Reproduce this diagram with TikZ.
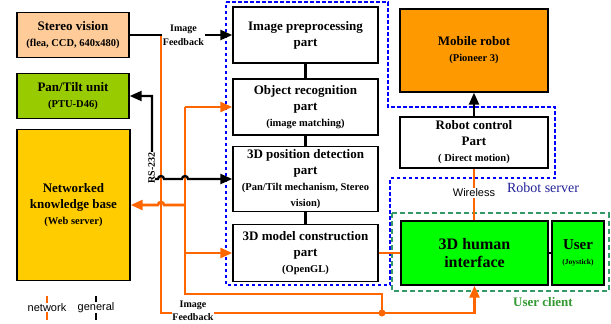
\documentclass[tikz,border=0pt]{standalone}
\usepackage{fontspec}
\setmainfont{Liberation Serif}
\newfontfamily\sansf{Liberation Sans}
\usetikzlibrary{arrows.meta}
\definecolor{peach}{HTML}{FFCC99}
\definecolor{ptgreen}{HTML}{99CC00}
\definecolor{kbyellow}{HTML}{FFCC00}
\definecolor{robotorange}{HTML}{FF9900}
\definecolor{brightgreen}{HTML}{00FF00}
\definecolor{netorange}{HTML}{FF6600}
\definecolor{servblue}{HTML}{0000FF}
\definecolor{servtext}{HTML}{222299}
\definecolor{clientgreen}{HTML}{339966}
\definecolor{clienttext}{HTML}{339933}
\newcommand{\smf}{\fontsize{10.5}{12}\selectfont}
\newcommand{\tnf}{\fontsize{7.5}{9}\selectfont}
\begin{document}
\begin{tikzpicture}[x=1pt,y=-1pt,
  >={Triangle[length=12pt,width=10pt]},
  box/.style={draw=black, line width=1.4pt, inner sep=0pt, align=center,
    font=\bfseries\fontsize{13}{16}\selectfont},
  net/.style={draw=netorange, line width=2.6pt},
  gen/.style={draw=black, line width=2.3pt},
  lbl/.style={fill=white, inner sep=0.6pt, align=center, font=\bfseries\fontsize{10}{13}\selectfont},
  serverline/.style={draw=servblue, line width=2.5pt, dash pattern=on 3.5pt off 2.5pt},
  clientline/.style={draw=clientgreen, line width=2pt, dash pattern=on 5pt off 3pt}]
\useasboundingbox (0,0) rectangle (611,324);

% boxes
\node[box, fill=peach, minimum width=112pt, minimum height=45pt] (stereo) at (73,35)
  {Stereo vision\\{\smf (flea, CCD, 640x480)}};
\node[box, fill=ptgreen, minimum width=112pt, minimum height=45pt] (pantilt) at (73,96)
  {Pan/Tilt unit\\{\smf (PTU-D46)}};
\node[box, fill=kbyellow, minimum width=113pt, minimum height=151pt] (kb) at (73.5,205)
  {Networked\\knowledge base\\{\smf (Web server)}};
\node[box, minimum width=145pt, minimum height=56pt] (imgprep) at (305.5,35)
  {Image preprocessing\\part};
\node[box, minimum width=145pt, minimum height=56pt] (objrec) at (305.5,107)
  {Object recognition\\part\\{\smf (image matching)}};
\node[box, minimum width=145pt, minimum height=65pt] (posdet) at (305.5,179)
  {3D position detection\\part\\{\smf (Pan/Tilt mechanism, Stereo}\\{\smf vision)}};
\node[box, minimum width=145pt, minimum height=57pt] (model) at (305.5,253)
  {3D model construction\\part\\{\smf (OpenGL)}};
\node[box, fill=robotorange, minimum width=148pt, minimum height=83pt] (mobile) at (474,50.5)
  {Mobile robot\\{\smf (Pioneer 3)}};
\node[box, minimum width=148pt, minimum height=51pt] (robctl) at (474,142.5)
  {Robot control\\Part\\{\smf ( Direct motion)}};
\node[box, fill=brightgreen, minimum width=147pt, minimum height=64pt,
  font=\bfseries\fontsize{16}{18}\selectfont] (hci) at (474.5,253)
  {3D human\\interface};
\node[box, fill=brightgreen, minimum width=52pt, minimum height=64pt,
  font=\bfseries\fontsize{15}{15}\selectfont] (user) at (578,253)
  {User\\{\tnf (Joystick)}};

% boundaries
\draw[serverline] (226,2) -- (388,2) -- (388,107) -- (555,107) -- (555,178)
  -- (390,178) -- (390,285) -- (226,285) -- cycle;
\draw[clientline] (392,213) rectangle (608.5,291);
\node[font=\fontsize{14}{16}\selectfont, text=servtext] (servlbl) at (543,188) {Robot server};
\node[font=\bfseries\fontsize{13}{15}\selectfont, text=clienttext] (clientlbl) at (543,302) {User client};

% coordinates
\coordinate (ja) at (161,35);
\coordinate (abot) at (161,313);
\coordinate (jb) at (185,107);
\coordinate (bbot) at (185,294);
\coordinate (dot) at (382,313);

% orange network lines
\draw[net, ->] (ja) -- (abot) -- (abot -| hci.south) -- (hci.south);
\draw[net, ->] (jb) -- (objrec.west);
\draw[net] (jb) -- (bbot) -- (bbot -| dot) -- (dot);
\fill[netorange] (dot) circle (3.5pt);
\draw[net, ->] (model.west -| jb) -- (model.west);
\draw[net, ->] (185,205) -- (164,205) arc (0:-180:3) -- (kb.east);
\draw[net] (model.east) -- (model.east -| hci.west);
\draw[net, line width=2pt] (robctl.south) -- (robctl.south |- hci.north);

% black general lines
\draw[gen, ->] (stereo.east) -- (imgprep.west);
\draw[gen, <->] (pantilt.east) -- (152,96) -- (152,179) -- (158,179) arc (180:360:3)
  -- (182,179) arc (180:360:3) -- (posdet.west);
\draw[gen] (imgprep.south) -- (objrec.north);
\draw[gen] (objrec.south) -- (posdet.north);
\draw[gen] (posdet.south) -- (model.north);
\draw[gen, ->] (robctl.north) -- (mobile.south);
\draw[gen, line width=2pt] (hci.east) -- (user.west);

% labels on lines
\node[lbl, font=\bfseries\fontsize{10}{13.5}\selectfont] (ifb1) at (183.5,35.5) {Image\\Feedback};
\node[lbl, font=\bfseries\fontsize{10}{12.5}\selectfont] (ifb2) at (193,311) {Image\\Feedback};
\node[lbl, rotate=90] (rs) at (151.5,168) {RS-232};
\node[fill=white, inner sep=0.6pt, font=\sansf\fontsize{11}{13}\selectfont] (wl) at (474,193) {Wireless};

% legend
\coordinate (lnt) at (47,296);
\coordinate (lnb) at (47,320);
\coordinate (lgt) at (96,296);
\coordinate (lgb) at (96,320);
\draw[draw=netorange, line width=2pt] (lnt) -- (lnb);
\draw[draw=black, line width=2pt] (lgt) -- (lgb);
\node[fill=white, inner sep=0.8pt, font=\sansf\fontsize{11}{13}\selectfont] (legnet) at (47,307.5) {network};
\node[fill=white, inner sep=0.8pt, font=\sansf\fontsize{11}{13}\selectfont] (leggen) at (96,307.5) {general};
\end{tikzpicture}
\end{document}
